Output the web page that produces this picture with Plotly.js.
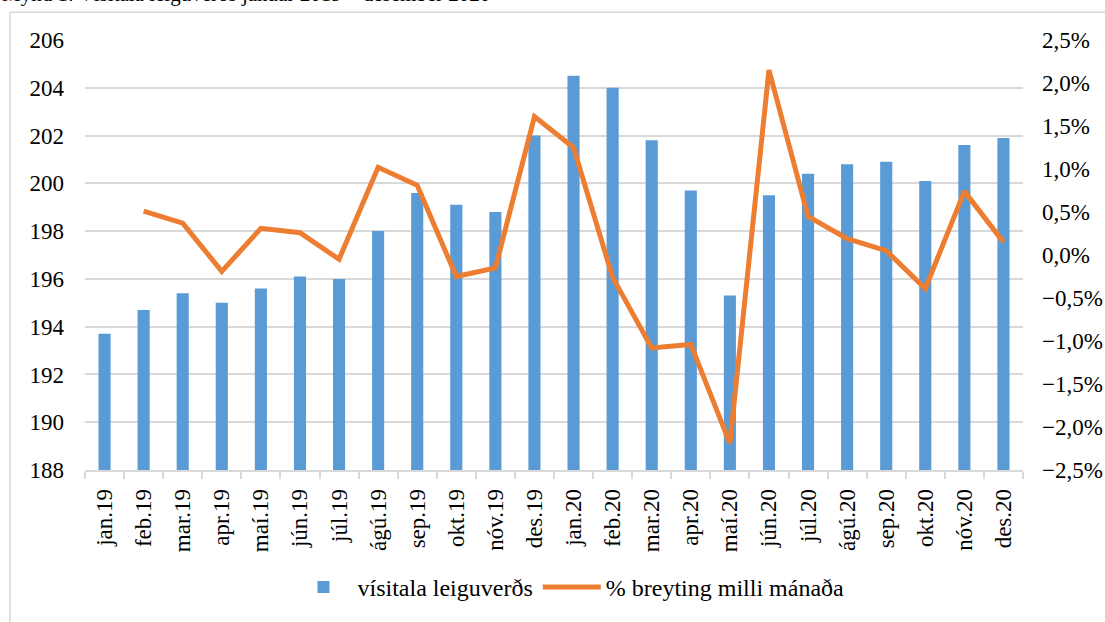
<!DOCTYPE html>
<html>
<head>
<meta charset="utf-8">
<script src="https://cdn.plot.ly/plotly-3.0.1.min.js"></script>
<style>
html,body{margin:0;padding:0;background:#fff;overflow:hidden;}
#chart{width:1105px;height:622px;}
</style>
</head>
<body>
<div id="chart"></div>
<script>
const months = ["jan.19","feb.19","mar.19","apr.19","maí.19","jún.19","júl.19","ágú.19","sep.19","okt.19","nóv.19","des.19",
                "jan.20","feb.20","mar.20","apr.20","maí.20","jún.20","júl.20","ágú.20","sep.20","okt.20","nóv.20","des.20"];
const indexValues = [193.7,194.7,195.4,195.0,195.6,196.1,196.0,198.0,199.6,199.1,198.8,202.0,
                     204.5,204.0,201.8,199.7,195.3,199.5,200.4,200.8,200.9,200.1,201.6,201.9];
const pctChange = [null,0.51,0.37,-0.19,0.31,0.26,-0.05,1.02,0.81,-0.25,-0.15,1.61,
                   1.25,-0.26,-1.08,-1.04,-2.19,2.15,0.45,0.19,0.05,-0.39,0.74,0.15];
const seriesNames = ["vísitala leiguverðs","% breyting milli mánaða"];
const titleText = "Mynd 1: Vísitala leiguverðs janúar 2019 – desember 2020";

const grid = "#D9D9D9";
const fam = "Liberation Serif";

const traces = [
  {type:"bar", x:months, y:indexValues, name:seriesNames[0], marker:{color:"#5B9BD5"}, width:0.31, yaxis:"y"},
  {type:"scatter", mode:"lines", x:months, y:pctChange, name:seriesNames[1], line:{color:"#ED7D31", width:5}, yaxis:"y2", connectgaps:false}
];

const layout = {
  width:1105, height:622,
  margin:{l:85, r:82, t:40, b:150},
  paper_bgcolor:"#fff", plot_bgcolor:"rgba(0,0,0,0)",
  separators:",.",
  font:{family:fam, size:23, color:"#000000"},
  showlegend:true,
  legend:{orientation:"h", x:0.5165, xanchor:"center", y:-0.273, yanchor:"middle", font:{family:fam, size:24, color:"#000000"}, itemwidth:58, traceorder:"normal"},
  xaxis:{type:"category", showgrid:false, showline:true, linecolor:grid, linewidth:1.5,
         ticks:"outside", tickson:"boundaries", ticklen:7, tickcolor:grid, tickwidth:1.5,
         tickangle:-90, tickfont:{family:fam, size:23, color:"#000000"}, ticklabelstandoff:8, fixedrange:true},
  yaxis:{range:[188,206], dtick:2, tick0:188, showgrid:true, gridcolor:grid, gridwidth:1.5, zeroline:false,
         showline:false, ticks:"", tickfont:{family:fam, size:23, color:"#000000"}, ticklabelstandoff:20},
  yaxis2:{range:[-2.5,2.5], dtick:0.5, tick0:-2.5, overlaying:"y", side:"right", showgrid:false, zeroline:false,
          showline:false, ticks:"", tickformat:".1f", ticksuffix:"%", tickfont:{family:fam, size:23, color:"#000000"}, ticklabelstandoff:18},
  shapes:[
    {type:"rect", xref:"paper", yref:"paper", x0:-0.08, x1:1.1, y0:-0.38, y1:1.0648, line:{color:grid, width:1.5}, fillcolor:"rgba(0,0,0,0)", layer:"below"}
  ],
  annotations:[
    {text:titleText, xref:"paper", yref:"paper", x:-0.0906, xanchor:"left", y:1.074, yanchor:"bottom", showarrow:false,
     font:{family:fam, size:21, color:"#000000"}}
  ]
};

Plotly.newPlot("chart", traces, layout, {displayModeBar:false});
</script>
</body>
</html>
